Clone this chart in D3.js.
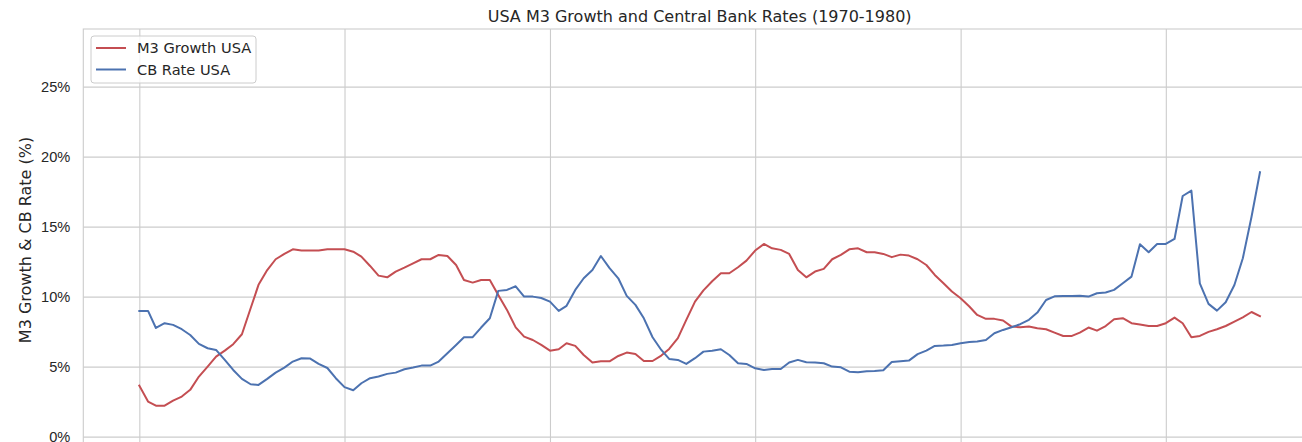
<!DOCTYPE html>
<html>
<head>
<meta charset="utf-8">
<script src="https://cdn.jsdelivr.net/npm/d3@7"></script>
<style>
  html, body { margin: 0; padding: 0; background: #fff; }
  svg { display: block; font-family: "DejaVu Sans", sans-serif; }
</style>
</head>
<body>
<div id="chart"></div>
<script>
// monthly values, Jan 1970 .. Dec 1980
const startMonth = "1970-01";
const m3Growth = [
  3.64, 2.5, 2.21, 2.21, 2.57, 2.86, 3.34, 4.29, 5.0, 5.71, 6.14, 6.6,          // 1970
  7.31, 9.17, 10.84, 11.9, 12.67, 13.05, 13.38, 13.29, 13.29, 13.29, 13.38, 13.38, // 1971
  13.38, 13.21, 12.86, 12.19, 11.5, 11.38, 11.79, 12.07, 12.38, 12.67, 12.67, 12.98, // 1972
  12.9, 12.26, 11.19, 11.0, 11.19, 11.19, 10.12, 9.05, 7.8, 7.14, 6.9, 6.55,    // 1973
  6.14, 6.24, 6.67, 6.48, 5.83, 5.29, 5.38, 5.38, 5.76, 6.0, 5.9, 5.4,          // 1974
  5.4, 5.79, 6.26, 7.03, 8.34, 9.64, 10.45, 11.1, 11.67, 11.67, 12.1, 12.57,    // 1975
  13.29, 13.76, 13.45, 13.34, 13.05, 11.9, 11.38, 11.79, 11.98, 12.67, 12.98, 13.38, // 1976
  13.45, 13.17, 13.17, 13.05, 12.82, 13.0, 12.93, 12.67, 12.26, 11.55, 10.96, 10.36, // 1977
  9.88, 9.29, 8.69, 8.41, 8.41, 8.29, 7.86, 7.81, 7.86, 7.74, 7.67, 7.43,       // 1978
  7.19, 7.19, 7.43, 7.79, 7.57, 7.9, 8.38, 8.46, 8.1, 8.0, 7.9, 7.9,            // 1979
  8.1, 8.5, 8.1, 7.1, 7.19, 7.48, 7.67, 7.9, 8.21, 8.52, 8.9, 8.6               // 1980
];
const cbRate = [
  8.98, 8.98, 7.76, 8.1, 7.98, 7.67, 7.26, 6.62, 6.31, 6.19, 5.48, 4.76,        // 1970
  4.12, 3.74, 3.69, 4.12, 4.57, 4.93, 5.36, 5.6, 5.57, 5.19, 4.9, 4.17,         // 1971
  3.53, 3.31, 3.81, 4.17, 4.29, 4.48, 4.57, 4.81, 4.93, 5.07, 5.07, 5.36,       // 1972
  5.96, 6.55, 7.1, 7.1, 7.79, 8.45, 10.41, 10.48, 10.74, 10.0, 10.0, 9.9,       // 1973
  9.64, 8.98, 9.34, 10.48, 11.31, 11.9, 12.9, 12.03, 11.31, 10.05, 9.41, 8.45,  // 1974
  7.1, 6.19, 5.55, 5.48, 5.19, 5.6, 6.07, 6.14, 6.24, 5.83, 5.24, 5.19,         // 1975
  4.88, 4.76, 4.83, 4.83, 5.29, 5.48, 5.31, 5.29, 5.24, 5.0, 4.95, 4.64,        // 1976
  4.6, 4.67, 4.69, 4.74, 5.33, 5.38, 5.43, 5.89, 6.14, 6.48, 6.5, 6.55,         // 1977
  6.67, 6.76, 6.79, 6.9, 7.38, 7.62, 7.81, 8.03, 8.34, 8.86, 9.76, 10.02,       // 1978
  10.05, 10.05, 10.07, 10.0, 10.24, 10.29, 10.48, 10.95, 11.43, 13.74, 13.17, 13.76, // 1979
  13.76, 14.12, 17.19, 17.57, 10.95, 9.48, 9.0, 9.6, 10.83, 12.74, 15.71, 18.89 // 1980
];
const seriesNames = ["M3 Growth USA", "CB Rate USA"];
const seriesColors = ["#c44e52", "#4c72b0"];
const yTicks = [0, 5, 10, 15, 20, 25];
const xTickYears = [1970, 1972, 1974, 1976, 1978, 1980];

const W = 1302, H = 442;
const margin = { top: 29, left: 83.3, right: 1316, bottom: 451 };
const textColor = "#262626";
const gridColor = "#cccccc";

const t0 = d3.timeParse("%Y-%m")(startMonth);
const dates = m3Growth.map((_, i) => d3.timeMonth.offset(t0, i));
const series = [m3Growth, cbRate].map((vals, k) => ({
  name: seriesNames[k],
  color: seriesColors[k],
  values: vals.map((v, i) => ({ date: dates[i], v }))
}));

// matplotlib-style 5% margins on the date range
const first = dates[0], last = dates[dates.length - 1];
const pad = (last - first) * 0.05;
const x = d3.scaleTime()
  .domain([new Date(+first - pad), new Date(+last + pad)])
  .range([margin.left, margin.right]);

const y = d3.scaleLinear()
  .domain([-1.03, 29.12])
  .range([margin.bottom, margin.top]);

const svg = d3.select("#chart").append("svg")
  .attr("width", W).attr("height", H)
  .style("background", "#fff");

// grid (vertical)
svg.append("g")
  .attr("transform", `translate(0,${margin.bottom})`)
  .call(d3.axisBottom(x)
    .tickValues(xTickYears.map(yr => new Date(yr, 0, 1)))
    .tickSize(-(margin.bottom - margin.top))
    .tickFormat(""))
  .call(g => g.select(".domain").remove())
  .call(g => g.selectAll("line").attr("stroke", gridColor).attr("stroke-width", 1.1));

// grid (horizontal) + y labels
const yAxis = svg.append("g")
  .attr("transform", `translate(${margin.left},0)`)
  .call(d3.axisLeft(y)
    .tickValues(yTicks)
    .tickSize(-(margin.right - margin.left))
    .tickPadding(13)
    .tickFormat(d => d + "%"));
yAxis.select(".domain").remove();
yAxis.selectAll("line").attr("stroke", gridColor).attr("stroke-width", 1.1);
yAxis.selectAll("text")
  .attr("fill", textColor)
  .style("font-size", "14.6px");

// spines
svg.append("rect")
  .attr("x", margin.left).attr("y", margin.top)
  .attr("width", margin.right - margin.left)
  .attr("height", margin.bottom - margin.top)
  .attr("fill", "none")
  .attr("stroke", gridColor)
  .attr("stroke-width", 1.1);

// lines
const line = d3.line().x(d => x(d.date)).y(d => y(d.v));
svg.append("g").selectAll("path")
  .data(series)
  .join("path")
  .attr("d", d => line(d.values))
  .attr("fill", "none")
  .attr("stroke", d => d.color)
  .attr("stroke-width", 2)
  .attr("stroke-linejoin", "round")
  .attr("stroke-linecap", "square");

// title
svg.append("text")
  .attr("x", (margin.left + margin.right) / 2)
  .attr("y", 21.5)
  .attr("text-anchor", "middle")
  .attr("fill", textColor)
  .style("font-size", "16px")
  .text("USA M3 Growth and Central Bank Rates (1970-1980)");

// y label
svg.append("text")
  .attr("transform", `translate(31,${(margin.top + margin.bottom) / 2}) rotate(-90)`)
  .attr("text-anchor", "middle")
  .attr("fill", textColor)
  .style("font-size", "16px")
  .text("M3 Growth & CB Rate (%)");

// legend
const legend = svg.append("g");
legend.append("rect")
  .attr("x", 91).attr("y", 36)
  .attr("width", 165).attr("height", 47)
  .attr("rx", 3)
  .attr("fill", "#fff").attr("fill-opacity", 0.8)
  .attr("stroke", gridColor);
const items = legend.selectAll("g.item")
  .data(series)
  .join("g")
  .attr("transform", (d, i) => `translate(0,${48 + i * 21.5})`);
items.append("line")
  .attr("x1", 96).attr("x2", 126)
  .attr("stroke", d => d.color)
  .attr("stroke-width", 2);
items.append("text")
  .attr("x", 137).attr("y", 5.2)
  .attr("fill", textColor)
  .style("font-size", "14.6px")
  .text(d => d.name);
</script>
</body>
</html>
